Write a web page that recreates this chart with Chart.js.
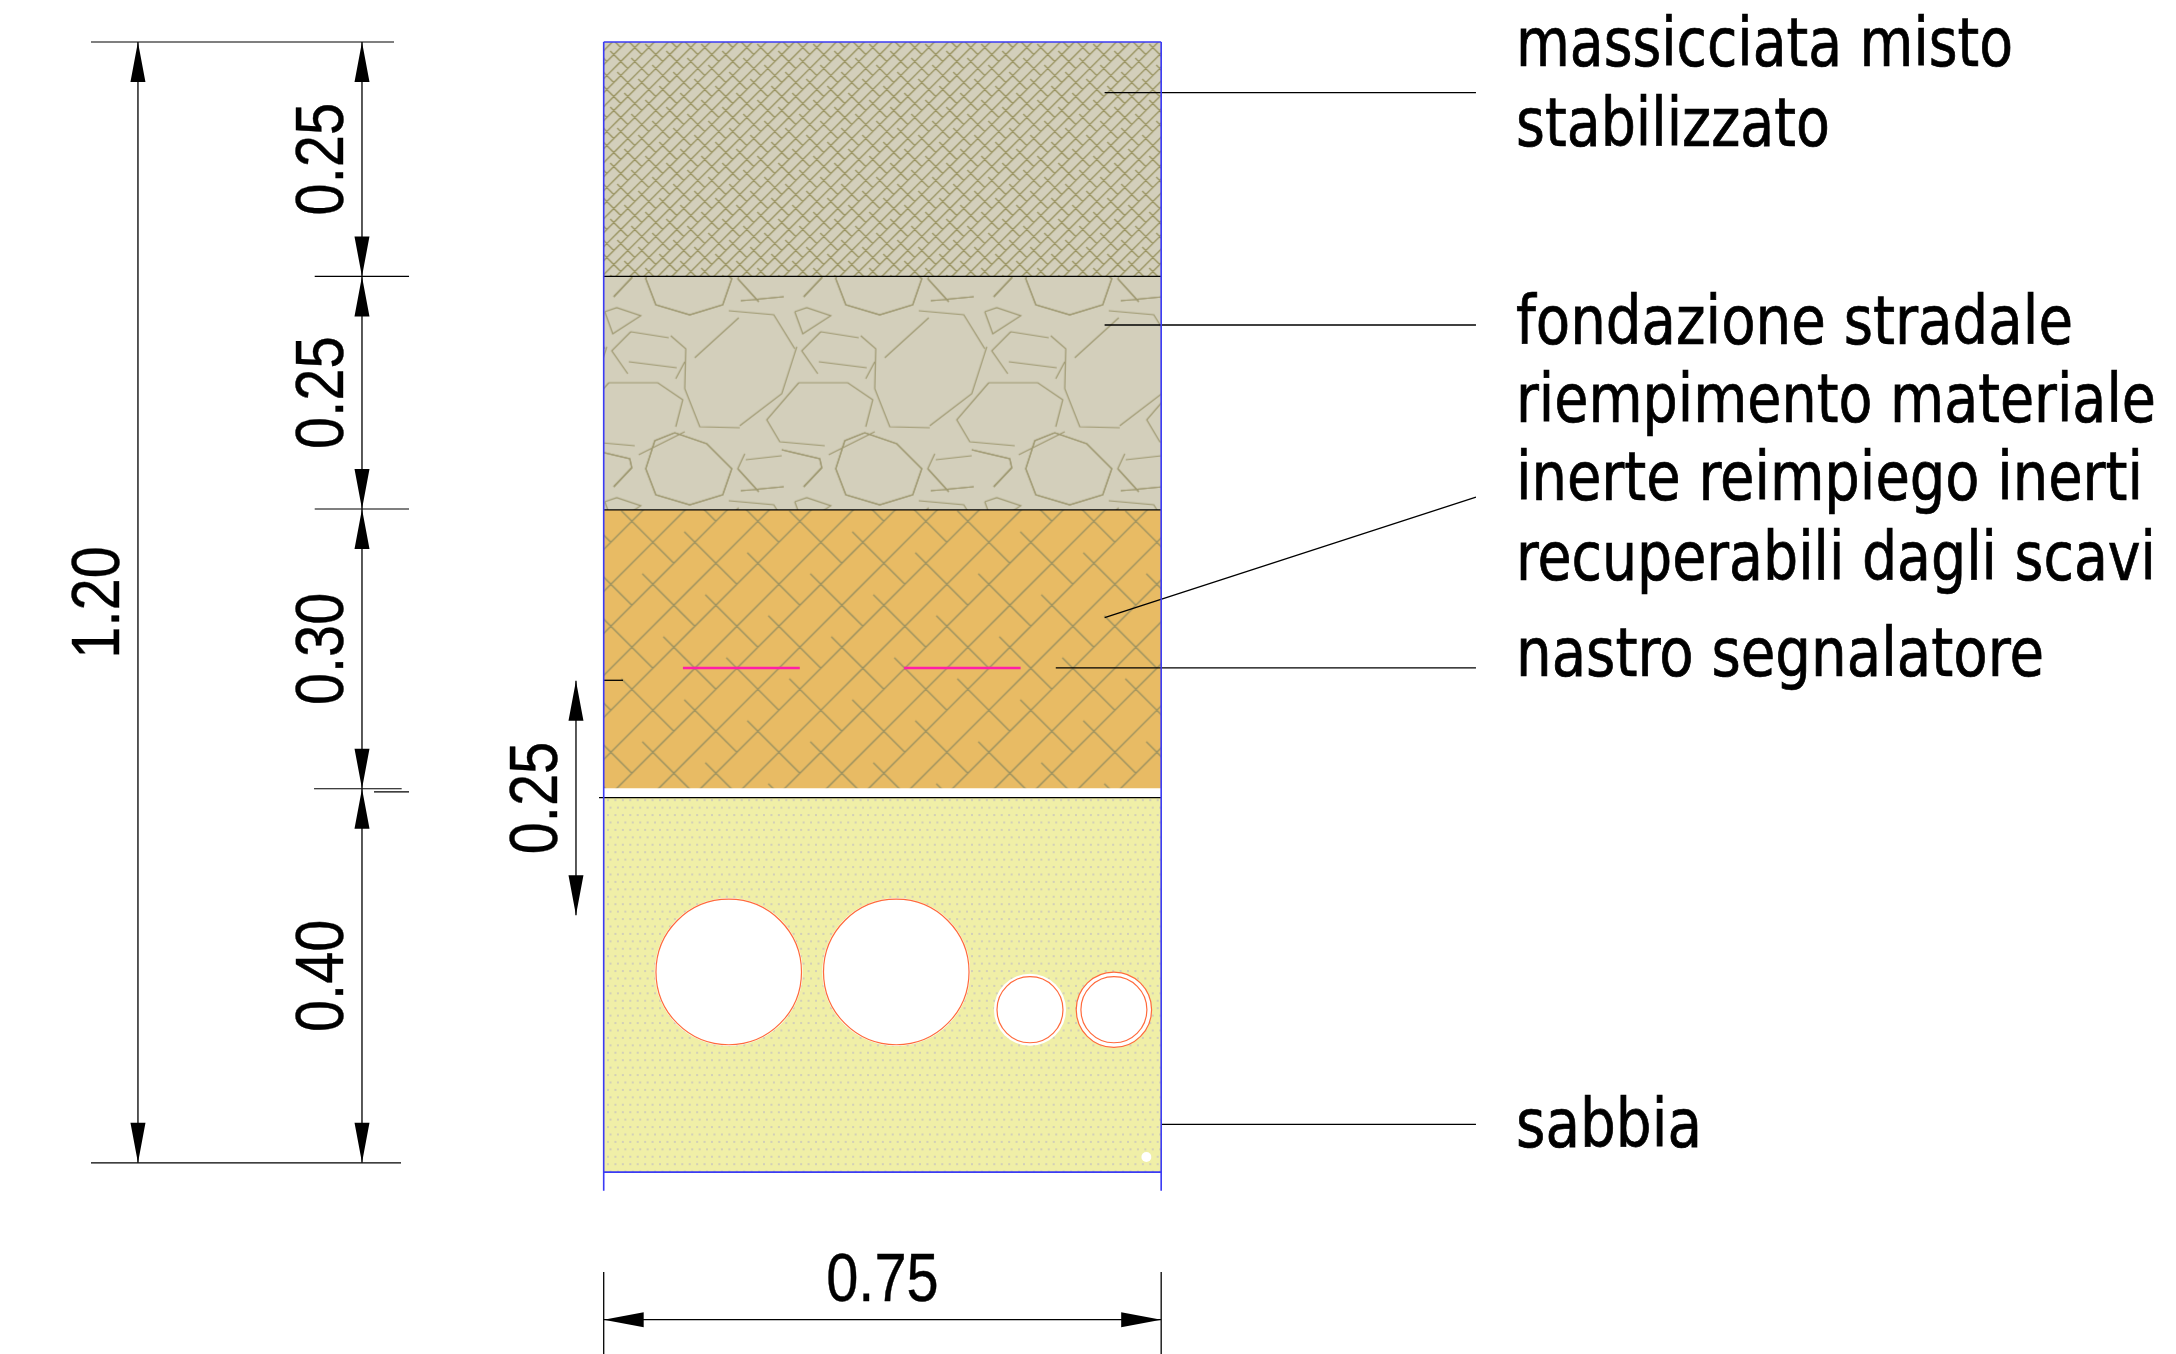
<!DOCTYPE html>
<html lang="it">
<head>
<meta charset="utf-8">
<title>Sezione tipo scavo</title>
<script src="https://cdn.jsdelivr.net/npm/chart.js@4"></script>
<style>
  html, body { margin: 0; background: #fff; }
  canvas { display: block; }
</style>
</head>
<body>
<canvas id="section" width="2176" height="1354"></canvas>
<script>
// all values in metres: x from the left side of the trench, depth from the surface
const trenchWidth = 0.75
const trenchStubDepth = 1.23

const layerTop = [0, 0.251, 0.501, 0.809]
const layerBottom = [0.251, 0.501, 0.799, 1.21]
const sandLine = [-0.0063, 0.809]

const dimFrom = [0, 0.251, 0.5, 0.7995, 0, 0.684]
const dimTo = [0.251, 0.5, 0.7995, 1.2, 1.2, 0.935]
const dimX = [-0.3252, -0.3252, -0.3252, -0.3252, -0.6266, -0.0373]
const dimText = ["0.25", "0.25", "0.30", "0.40", "1.20", "0.25"]

const widthDimDepth = 1.368
const widthDimText = "0.75"
const widthDimExt = [1.317, 1.405]

const extFrom = [-0.6898, -0.3888, -0.3888, -0.3897, -0.309, -0.6898]
const extTo = [-0.2821, -0.2619, -0.2619, -0.2718, -0.2619, -0.2727]
const extDepth = [0, 0.251, 0.5, 0.7995, 0.8028, 1.2]

const leaderX = [0.6739, 0.6739, 0.6739, 0.6082, 0.75]
const leaderDepth = [0.0541, 0.303, 0.6164, 0.6702, 1.1588]
const leaderEndX = 1.1735
const leaderEndDepth = [0.0541, 0.303, 0.4872, 0.6702, 1.1588]

const tapeFrom = [0.1066, 0.404]
const tapeTo = [0.2638, 0.5609]
const tapeDepth = 0.6702
const coverTick = [0, 0.026, 0.6834]

const pipeX = [0.1682, 0.3936, 0.5735, 0.6864]
const pipeDepth = [0.9957, 0.9957, 1.0361, 1.0361]
const pipeRadius = [0.0979, 0.0979, 0.0444, 0.0444]
const pipeHalo = [0.0995, 0.0995, 0.0485, 0.0485]
const pipeOuter = [0.0507]
const holeX = [0.7301]
const holeDepth = [1.1938]
const holeRadius = [0.0067]

const labelLines = [
  "massicciata misto", "stabilizzato",
  "fondazione stradale", "riempimento materiale",
  "inerte reimpiego inerti", "recuperabili dagli scavi",
  "nastro segnalatore", "sabbia"
]
const labelBaseline = [66, 145.5, 343.5, 421.7, 500, 579.5, 675.7, 1147]
const labelWidth = [497, 314, 557, 640, 627, 640, 528, 186]

// hatch tiles
function makeTile(size, draw) {
  const tile = document.createElement("canvas")
  tile.width = size
  tile.height = size
  draw(tile.getContext("2d"))
  return tile
}

function weave(scale, color, width) {
  const size = 168 / scale
  return makeTile(size, (c) => {
    c.strokeStyle = color
    c.lineWidth = width
    c.beginPath()
    for (let k = -1; k <= 9 * scale + 9; k++) {
      const s = (21 + 42 * k) / scale
      c.moveTo(s + 10, -10)
      c.lineTo(-10, s + 10)
    }
    for (let n = -8; n <= 8; n++) {
      for (let m = -8; m <= 8; m++) {
        const px = (63 * n + 21 * m) / scale
        const py = (21 * n + 63 * m) / scale
        c.moveTo(px, py)
        c.lineTo(px + 52.5 / scale, py + 52.5 / scale)
      }
    }
    c.stroke()
  })
}

// rubble outlines traced from one repeat of the hatch, 190 x 190
const rubble = [
  [[71, 156], [103, 167], [128, 192], [119, 218], [86, 228], [52, 218], [42, 192], [51, 164], [71, 156]],
  [[71, -34], [103, -23], [128, 2], [119, 28], [86, 38], [52, 28], [42, 2], [51, -26], [71, -34]],
  [[125, 34], [170, 38], [191, 72]],
  [[193, 70], [178, 117], [136, 149]],
  [[136, 151], [96, 150], [81, 112], [82, 72], [67, 59]],
  [[135, 41], [91, 81]],
  [[1, 35], [13, 31], [37, 39], [9, 57], [1, 35]],
  [[27, 55], [65, 61]],
  [[27, 55], [8, 74], [24, 97]],
  [[25, 85], [73, 91]],
  [[81, 85], [72, 102]],
  [[5, 106], [54, 106], [79, 123], [72, 150]],
  [[5, 106], [-27, 143], [-14, 165], [31, 169]],
  [[81, 155], [35, 178]],
  [[178, 173], [216, 182], [218, 191], [200, 210]],
  [[-12, 173], [26, 182], [28, 191], [10, 210]],
  [[141, 177], [134, 192], [155, 215]],
  [[142, 183], [178, 179]],
  [[137, 214], [180, 210]],
  [[137, 24], [180, 20]],
  [[134, 2], [155, 25]],
  [[10, 20], [28, 1]]
]

const rubbleTile = makeTile(190, (c) => {
  c.strokeStyle = "#9e9870"
  c.lineWidth = 1.2
  for (const ox of [-190, 0, 190]) {
    for (const oy of [-190, 0, 190]) {
      c.beginPath()
      for (const line of rubble) {
        line.forEach(([x, y], i) => {
          if (i === 0) c.moveTo(x + ox, y + oy)
          else c.lineTo(x + ox, y + oy)
        })
      }
      c.stroke()
    }
  }
})

const sandTile = makeTile(52, (c) => {
  c.fillStyle = "#d2cfb8"
  const step = 52 / 7
  for (let row = 0; row < 7; row++) {
    const shift = row % 2 ? 2.5 : 0
    for (let col = 0; col < 7; col++) {
      c.fillRect(col * step + 3 + shift, row * step + 1.2, 2, 2)
    }
  }
})

function hatch(ctx, base, tile, ox, oy) {
  const c = document.createElement("canvas")
  c.width = tile.width
  c.height = tile.height
  const g = c.getContext("2d")
  g.fillStyle = base
  g.fillRect(0, 0, c.width, c.height)
  g.drawImage(tile, 0, 0)
  const pattern = ctx.createPattern(c, "repeat")
  pattern.setTransform(new DOMMatrix([1, 0, 0, 1, ox, oy]))
  return pattern
}

const canvas = document.getElementById("section")
const ctx = canvas.getContext("2d")

const layerFill = [
  hatch(ctx, "#d3cfbb", weave(3, "#98925f", 1.25), 617.3, 72),
  hatch(ctx, "#d3cfbb", rubbleTile, 603.7, 276.7),
  hatch(ctx, "#e8bb64", weave(1, "#978f60", 1.25), 684.35, 531.7),
  hatch(ctx, "#f0efa7", sandTile, 604, 798)
]

const INK = "#000000"
const BLACK = "#000000"
const BLUE = "#3a3af5"
const RED = "#ff6a3c"
const PINK = "#ff1fa8"

function seg(x1, d1, x2, d2, color, width) {
  return {
    data: [{ x: x1, y: d1 }, { x: x2, y: d2 }],
    borderColor: color,
    borderWidth: width,
    pointRadius: 0,
    fill: false
  }
}

function circles(xs, ds, rs, fillColor, lineColor, lineWidth) {
  return {
    data: xs.map((x, i) => ({ x, y: ds[i] })),
    showLine: false,
    pointRadius: (c) => {
      const sx = c.chart.scales.x
      return sx.getPixelForValue(rs[c.dataIndex]) - sx.getPixelForValue(0)
    },
    pointBackgroundColor: fillColor,
    pointBorderColor: lineColor,
    pointBorderWidth: lineWidth,
    fill: false
  }
}

// chart.js paints the first dataset last, so this list is built bottom up and reversed
const datasets = []

layerTop.forEach((top, i) => {
  datasets.push({
    data: [{ x: 0, y: top }, { x: trenchWidth, y: top }],
    borderWidth: 0,
    pointRadius: 0,
    backgroundColor: layerFill[i],
    fill: { target: { value: layerBottom[i] } }
  })
})

datasets.push(circles(pipeX, pipeDepth, pipeHalo, "#ffffff", "#ffffff", 0))
datasets.push(circles(pipeX.slice(3), pipeDepth.slice(3), pipeOuter, "#ffffff", RED, 1.2))
datasets.push(circles(pipeX, pipeDepth, pipeRadius, "#ffffff", RED, 1.2))
datasets.push(circles(holeX, holeDepth, holeRadius, "#ffffff", "#ffffff", 0))

tapeFrom.forEach((x, i) => datasets.push(seg(x, tapeDepth, tapeTo[i], tapeDepth, PINK, 2.6)))
leaderX.forEach((x, i) => {
  datasets.push(seg(x, leaderDepth[i], leaderEndX, leaderEndDepth[i], INK, 1.3))
})
datasets.push(seg(coverTick[0], coverTick[2], coverTick[1], coverTick[2], INK, 1.3))

datasets.push(seg(0, layerTop[1], trenchWidth, layerTop[1], BLACK, 1.3))
datasets.push(seg(0, layerTop[2], trenchWidth, layerTop[2], BLACK, 1.3))
datasets.push(seg(sandLine[0], sandLine[1], trenchWidth, sandLine[1], BLACK, 1.3))

datasets.push(seg(0, 0, trenchWidth, 0, BLUE, 1.6))
datasets.push(seg(0, layerBottom[3], trenchWidth, layerBottom[3], BLUE, 1.6))
datasets.push(seg(0, 0, 0, trenchStubDepth, BLUE, 1.6))
datasets.push(seg(trenchWidth, 0, trenchWidth, trenchStubDepth, BLUE, 1.6))

extFrom.forEach((x, i) => datasets.push(seg(x, extDepth[i], extTo[i], extDepth[i], INK, 1.2)))
dimX.forEach((x, i) => datasets.push(seg(x, dimFrom[i], x, dimTo[i], INK, 1.3)))

datasets.push(seg(0, widthDimDepth, trenchWidth, widthDimDepth, INK, 1.3))
datasets.push(seg(0, widthDimExt[0], 0, widthDimExt[1], INK, 1.3))
datasets.push(seg(trenchWidth, widthDimExt[0], trenchWidth, widthDimExt[1], INK, 1.3))

const ARROW_LEN = 40
const ARROW_HALF = 7.5

function arrow(c, x, y, dx, dy) {
  c.beginPath()
  c.moveTo(x, y)
  c.lineTo(x + dx * ARROW_LEN - dy * ARROW_HALF, y + dy * ARROW_LEN - dx * ARROW_HALF)
  c.lineTo(x + dx * ARROW_LEN + dy * ARROW_HALF, y + dy * ARROW_LEN + dx * ARROW_HALF)
  c.closePath()
  c.fill()
}

// the drawing's lettering is narrower than the installed fonts, and a bit heavier
function stretchedText(c, text, x, y, font, stretch, rotated, weight) {
  c.save()
  c.font = font
  c.translate(x, y)
  if (rotated) c.rotate(-Math.PI / 2)
  c.scale(stretch, 1)
  c.fillText(text, 0, 0)
  c.strokeStyle = BLACK
  c.lineWidth = weight
  c.strokeText(text, 0, 0)
  c.restore()
}

const DIM_FONT = '68px "Liberation Sans", Arial, sans-serif'
const DIM_STRETCH = 0.85
const DIM_OFFSET = 19
const LABEL_FONT = '67px "DejaVu Sans Condensed", "DejaVu Sans", sans-serif'
const LABEL_X = 1516

const annotations = {
  id: "annotations",
  afterDraw(chart) {
    const c = chart.ctx
    const { x: sx, y: sy } = chart.scales
    c.save()
    c.fillStyle = BLACK
    c.textBaseline = "alphabetic"

    dimX.forEach((x, i) => {
      const px = sx.getPixelForValue(x)
      const top = sy.getPixelForValue(dimFrom[i])
      const bottom = sy.getPixelForValue(dimTo[i])
      arrow(c, px, top, 0, 1)
      arrow(c, px, bottom, 0, -1)
      c.textAlign = "center"
      stretchedText(c, dimText[i], px - DIM_OFFSET, (top + bottom) / 2, DIM_FONT, DIM_STRETCH, true, 0.4)
    })

    const wy = sy.getPixelForValue(widthDimDepth)
    const wl = sx.getPixelForValue(0)
    const wr = sx.getPixelForValue(trenchWidth)
    arrow(c, wl, wy, 1, 0)
    arrow(c, wr, wy, -1, 0)
    c.textAlign = "center"
    stretchedText(c, widthDimText, (wl + wr) / 2, wy - DIM_OFFSET, DIM_FONT, DIM_STRETCH, false, 0.4)

    c.textAlign = "left"
    labelLines.forEach((line, i) => {
      c.font = LABEL_FONT
      const stretch = labelWidth[i] / c.measureText(line).width
      stretchedText(c, line, LABEL_X, labelBaseline[i], LABEL_FONT, stretch, false, 0.7)
    })
    c.restore()
  }
}

new Chart(canvas, {
  type: "line",
  data: { datasets: datasets.reverse() },
  options: {
    responsive: false,
    devicePixelRatio: 1,
    animation: false,
    events: [],
    layout: { padding: 0 },
    elements: { line: { tension: 0 } },
    plugins: {
      legend: { display: false },
      tooltip: { enabled: false },
      title: { display: false }
    },
    scales: {
      x: { type: "linear", display: false, min: -0.8122, max: 2.1153 },
      y: { type: "linear", display: false, reverse: true, min: -0.04497, max: 1.4047 }
    }
  },
  plugins: [annotations]
})
</script>
</body>
</html>
